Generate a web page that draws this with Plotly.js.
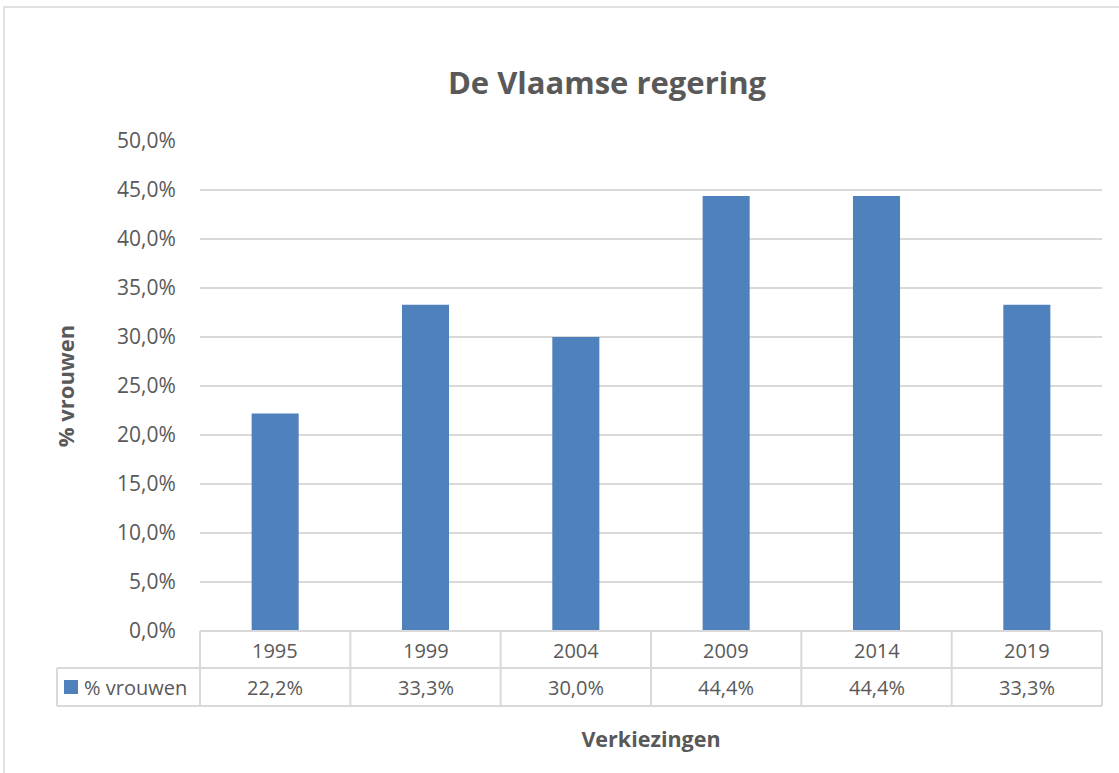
<!DOCTYPE html>
<html>
<head>
<meta charset="utf-8">
<script src="https://cdn.plot.ly/plotly-3.0.1.min.js"></script>
<style>html,body{margin:0;padding:0;background:#fff;}#chart{width:1119px;height:773px;}</style>
</head>
<body>
<div id="chart"></div>
<script>
const years = ['1995', '1999', '2004', '2009', '2014', '2019'];
const vrouwen = [0.222, 0.333, 0.300, 0.444, 0.444, 0.333];
const seriesName = '% vrouwen';
const chartTitle = 'De Vlaamse regering';
const xTitle = 'Verkiezingen';
const yTitle = '% vrouwen';

const W = 1119, H = 773, L = 200, R = 17, T = 141, B = 142;
const pw = W - L - R, ph = H - T - B;
const px = x => (x - L) / pw;
const py = y => (H - B - y) / ph;

const grey = '#d9d9d9';
const txt = '#595959';
const FONT = '"Open Sans", sans-serif';
const n = years.length;

const shapes = [];
const annotations = [];
// outer chart border
shapes.push({type: 'rect', xref: 'paper', yref: 'paper', x0: px(4), x1: px(1125), y0: py(7), y1: py(790),
  line: {color: grey, width: 1.5}, fillcolor: 'rgba(0,0,0,0)', layer: 'below'});
// table lines
const rowTop = 631, rowMid = 668, rowBot = 706, legLeft = 57;
shapes.push({type: 'line', xref: 'paper', yref: 'paper', x0: 0, x1: 1, y0: py(rowTop), y1: py(rowTop), line: {color: grey, width: 2}});
shapes.push({type: 'line', xref: 'paper', yref: 'paper', x0: px(legLeft), x1: 1, y0: py(rowMid), y1: py(rowMid), line: {color: grey, width: 2}});
shapes.push({type: 'line', xref: 'paper', yref: 'paper', x0: px(legLeft), x1: 1, y0: py(rowBot), y1: py(rowBot), line: {color: grey, width: 2}});
shapes.push({type: 'line', xref: 'paper', yref: 'paper', x0: px(legLeft), x1: px(legLeft), y0: py(rowMid), y1: py(rowBot), line: {color: grey, width: 2}});
for (let i = 0; i <= n; i++) {
  shapes.push({type: 'line', xref: 'paper', yref: 'paper', x0: i / n, x1: i / n, y0: py(rowTop), y1: py(rowBot), line: {color: grey, width: 2}});
}
// legend key square
shapes.push({type: 'rect', xref: 'paper', yref: 'paper', x0: px(64), x1: px(78), y0: py(680), y1: py(694),
  line: {width: 0}, fillcolor: '#4f81bd'});
annotations.push({xref: 'paper', yref: 'paper', x: px(82), y: py(687), xanchor: 'left', yanchor: 'middle',
  text: seriesName, showarrow: false, font: {family: FONT, size: 20, color: txt}});

years.forEach((yr, i) => {
  const cx = (i + 0.5) / n;
  annotations.push({xref: 'paper', yref: 'paper', x: cx, y: py(650), xanchor: 'center', yanchor: 'middle', text: yr, showarrow: false,
    font: {family: FONT, size: 20, color: txt}});
  annotations.push({xref: 'paper', yref: 'paper', x: cx, y: py(687), xanchor: 'center', yanchor: 'middle',
    text: (vrouwen[i] * 100).toFixed(1).replace('.', ',') + '%', showarrow: false,
    font: {family: FONT, size: 20, color: txt}});
});

const data = [{
  type: 'bar', x: years, y: vrouwen, name: seriesName,
  marker: {color: '#4f81bd'}, width: 0.313, hoverinfo: 'x+y'
}];

const layout = {
  width: W, height: H,
  margin: {l: L, r: R, t: T, b: B},
  paper_bgcolor: '#fff', plot_bgcolor: '#fff',
  separators: ',.',
  showlegend: false,
  title: {text: '<b>' + chartTitle + '</b>', x: px(607), xanchor: 'center', y: 1 - 83 / H, yanchor: 'middle',
    xref: 'paper', yref: 'container', font: {family: FONT, size: 31, color: txt}},
  xaxis: {type: 'category', range: [-0.5, n - 0.5], showticklabels: false, ticks: '', showgrid: false, zeroline: false,
    showline: false,
    title: {text: '<b>' + xTitle + '</b>', standoff: 100, font: {family: FONT, size: 21.5, color: txt}}},
  yaxis: {range: [0, 0.5], dtick: 0.05, tickformat: '.1%', showgrid: true, gridcolor: grey, gridwidth: 1.5,
    zeroline: false, showline: false, ticks: 'outside', ticklen: 19, tickcolor: 'rgba(0,0,0,0)',
    tickfont: {family: FONT, size: 21, color: txt},
    title: {text: '<b>' + yTitle + '</b>', standoff: 36, font: {family: FONT, size: 22, color: txt}}},
  shapes: shapes,
  annotations: annotations
};

Plotly.newPlot('chart', data, layout, {displayModeBar: false});
</script>
</body>
</html>
